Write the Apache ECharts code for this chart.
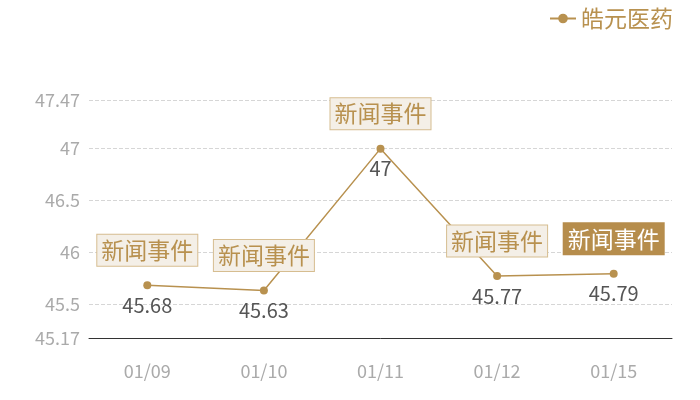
<!DOCTYPE html>
<html>
<head>
<meta charset="utf-8">
<script src="https://cdn.jsdelivr.net/npm/echarts@6/dist/echarts.min.js"></script>
<style>
  html, body { margin: 0; padding: 0; background: #fff; }
  #main { width: 700px; height: 400px; }
</style>
</head>
<body>
<div id="main"></div>
<script>
var dates = ['01/09', '01/10', '01/11', '01/12', '01/15'];
var prices = [45.68, 45.63, 47, 45.77, 45.79];
var eventText = '新闻事件';
var yMin = 45.17;
var yMax = 47.47;

var gold = '#b8914f';
var chart = echarts.init(document.getElementById('main'));

var marks = dates.map(function (d, i) {
	var active = i === dates.length - 1;
	return {
		coord: [d, prices[i]],
		value: eventText,
		label: {
			color: active ? '#fff' : gold,
			backgroundColor: active ? '#b68d4c' : '#f4efe7',
			borderColor: active ? '#b68d4c' : '#d6bd90',
			borderWidth: 1
		}
	};
});

var option = {
	textStyle: { fontFamily: '"Noto Sans CJK SC", "Noto Sans", sans-serif' },
	legend: {
		right: 22,
		top: 2,
		itemWidth: 26,
		itemHeight: 12,
		itemGap: 6,
		textStyle: { color: gold, fontSize: 23 },
		data: ['皓元医药']
	},
	grid: { left: 89, right: 28, top: 100, bottom: 62 },
	xAxis: {
		type: 'category',
		data: dates,
		axisLine: { lineStyle: { color: '#333' } },
		axisTick: { show: false },
		axisLabel: { color: '#aaa', fontSize: 18, margin: 24 }
	},
	yAxis: {
		type: 'value',
		min: yMin,
		max: yMax,
		axisLine: { show: false },
		axisTick: { show: false },
		axisLabel: { color: '#aaa', fontSize: 18, margin: 9 },
		splitLine: { lineStyle: { color: '#d6d6d6', type: 'dashed' } }
	},
	series: [
		{
			name: '皓元医药',
			type: 'line',
			data: prices,
			symbol: 'circle',
			symbolSize: 8,
			itemStyle: { color: gold },
			lineStyle: { color: gold, width: 1.5 },
			label: {
				show: true,
				position: 'bottom',
				distance: 6,
				color: '#555',
				fontSize: 20
			},
			markPoint: {
				symbol: 'circle',
				symbolSize: 1,
				itemStyle: { color: 'transparent' },
				label: {
					show: true,
					position: 'inside',
					offset: [0, -35],
					fontSize: 23,
					padding: [5, 4, 3, 4],
					formatter: '{c}'
				},
				data: marks
			}
		}
	]
};
chart.setOption(option);
</script>
</body>
</html>
